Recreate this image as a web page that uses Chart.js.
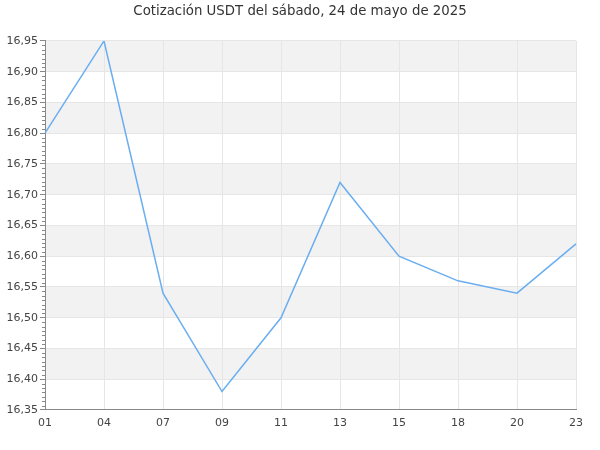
<!DOCTYPE html>
<html><head><meta charset="utf-8">
<script src="https://cdn.jsdelivr.net/npm/chart.js@4"></script>
<style>html,body{margin:0;padding:0;background:#fff}#w{width:600px;height:450px}</style>
</head><body><div id="w"><canvas id="c"></canvas></div>
<script>
const categories = ["01","04","07","09","11","13","15","18","20","23"];
const values = [16.80,16.95,16.54,16.38,16.50,16.72,16.60,16.56,16.54,16.62];
const yMin = 16.35, yMax = 16.95, yStep = 0.05, yMinorPerMajor = 7;
const titleText = "Cotización USDT del sábado, 24 de mayo de 2025";

const fontFam = "'DejaVu Sans', Verdana, sans-serif";
const bandsPlugin = {
  id: 'bands',
  beforeDraw(chart) {
    const {ctx, chartArea: a, scales: {y}} = chart;
    ctx.save();
    ctx.fillStyle = '#f2f2f2';
    const n = Math.round((yMax - yMin) / yStep);
    for (let i = 0; i < n; i++) {
      if ((n - 1 - i) % 2 === 0) {
        const v0 = yMin + i * yStep, v1 = v0 + yStep;
        const p0 = y.getPixelForValue(v0), p1 = y.getPixelForValue(v1);
        ctx.fillRect(a.left, p1, a.right - a.left, p0 - p1);
      }
    }
    ctx.restore();
  },
  afterDraw(chart) {
    const {ctx, chartArea: a, scales: {y}} = chart;
    ctx.save();
    ctx.strokeStyle = '#888';
    ctx.lineWidth = 1;
    const nMaj = Math.round((yMax - yMin) / yStep);
    const minorStep = yStep / yMinorPerMajor;
    for (let j = 0; j < nMaj; j++) {
      for (let k = 1; k < yMinorPerMajor; k++) {
        const p = Math.round(y.getPixelForValue(yMin + j * yStep + k * minorStep)) + 0.5;
        ctx.beginPath();
        ctx.moveTo(a.left - 3, p);
        ctx.lineTo(a.left, p);
        ctx.stroke();
      }
    }
    ctx.restore();
  }
};

new Chart(document.getElementById('c'), {
  type: 'line',
  data: {
    labels: categories,
    datasets: [{
      data: values,
      borderColor: '#6aaef0',
      borderWidth: 1.5,
      pointRadius: 0,
      tension: 0,
      fill: false
    }]
  },
  options: {
    responsive: true,
    maintainAspectRatio: false,
    animation: false,
    layout: {padding: 0},
    plugins: {
      legend: {display: false},
      tooltip: {enabled: false},
      title: {
        display: true, text: titleText, color: '#333',
        font: {family: fontFam, size: 13.3, weight: 'normal'},
        padding: {top: 4, bottom: 21}
      }
    },
    scales: {
      x: {
        offset: false,
        grid: {color: '#e6e6e6', drawTicks: false},
        border: {color: '#888', width: 1},
        ticks: {color: '#444', font: {family: fontFam, size: 11}, padding: 7, maxRotation: 0, autoSkip: false},
        afterFit(s) { s.height = 40; }
      },
      y: {
        min: yMin, max: yMax,
        grid: {color: '#e6e6e6', tickColor: '#888', tickLength: 5},
        border: {color: '#888', width: 1},
        ticks: {
          stepSize: yStep, color: '#444', font: {family: fontFam, size: 11}, padding: 2,
          callback: v => v.toFixed(2).replace('.', ',')
        },
        afterFit(s) { s.width = 45; }
      },
      yRight: {
        position: 'right',
        min: yMin, max: yMax,
        grid: {display: false},
        border: {display: false},
        ticks: {display: false},
        afterFit(s) { s.width = 24; }
      }
    }
  },
  plugins: [bandsPlugin]
});
</script></body></html>
